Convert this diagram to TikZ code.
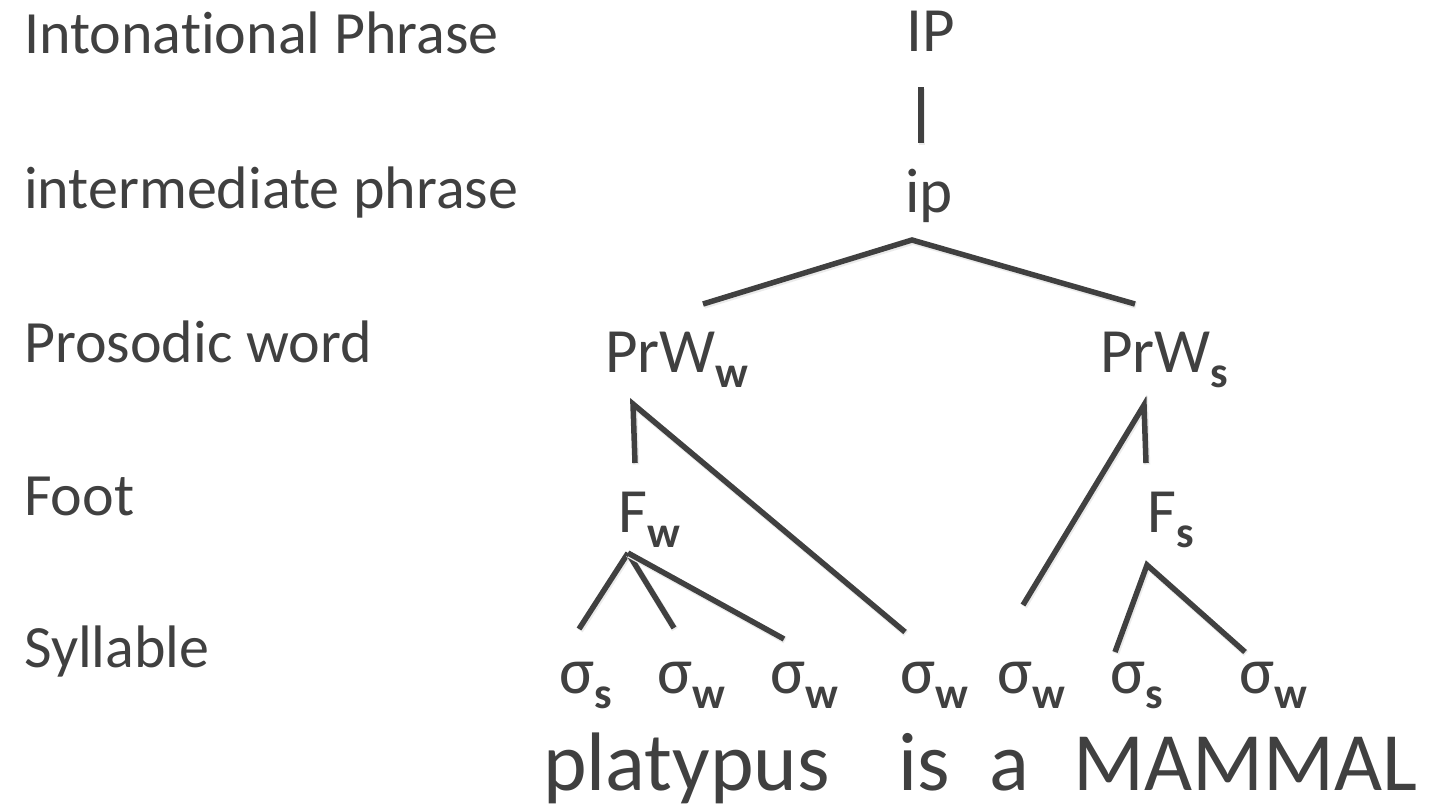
\documentclass[tikz,border=0pt]{standalone}
\usepackage{fontspec}
\setmainfont{Carlito}[Ligatures=NoCommon]
\usepackage{xcolor}
\definecolor{ink}{RGB}{64, 64, 64}
\newcommand{\lowsub}[1]{\raisebox{-15pt}{\fontsize{44}{44}\selectfont\bfseries #1}}
\tikzset{
  lvl/.style    = {anchor=base west, inner sep=0pt, text=ink, font=\fontsize{60}{66}\selectfont},
  tnode/.style  = {anchor=base west, inner sep=0pt, text=ink, font=\fontsize{63}{70}\selectfont},
  syl/.style    = {anchor=base west, inner sep=0pt, text=ink, font=\fontsize{66}{72}\selectfont},
  word/.style   = {anchor=base west, inner sep=0pt, text=ink, font=\fontsize{83}{90}\selectfont},
  branch/.style = {draw=ink, line width=5.5pt, line join=miter,
                   preaction={draw=black!8, line width=6.5pt,
                              transform canvas={shift={(1pt,-1.5pt)}}}},
}

\begin{document}
\begin{tikzpicture}[x=1pt, y=-1pt]
\useasboundingbox (0,0) rectangle (1437,808);

% ==================== levels ====================
\node[lvl] (l-ip)   at (24, 53)  {Intonational Phrase};
\node[lvl] (l-int)  at (24, 208) {intermediate phrase};
\node[lvl] (l-prw)  at (24, 362) {Prosodic word};
\node[lvl] (l-foot) at (24, 515) {Foot};
\node[lvl] (l-syl)  at (24, 667) {Syllable};

% ==================== tree ====================
\node[tnode] (IP)   at (906, 52)   {IP};
\node[tnode] (ip)   at (905, 212)  {ip};
\node[tnode] (prww) at (605, 372)  {PrW\lowsub{w}};
\node[tnode] (prws) at (1100, 372) {PrW\lowsub{s}};
\node[tnode] (fw)   at (618, 532)  {F\lowsub{w}};
\node[tnode] (fs)   at (1147, 532) {F\lowsub{s}};

% syllables
\node[syl] (s1) at (559, 693)  {σ\lowsub{s}};
\node[syl] (s2) at (657, 693)  {σ\lowsub{w}};
\node[syl] (s3) at (770, 693)  {σ\lowsub{w}};
\node[syl] (s4) at (900, 693)  {σ\lowsub{w}};
\node[syl] (s5) at (997, 693)  {σ\lowsub{w}};
\node[syl] (s6) at (1110, 693) {σ\lowsub{s}};
\node[syl] (s7) at (1239, 693) {σ\lowsub{w}};

% words
\node[word] (w-plat) at (543, 790)  {platypus};
\node[word] (w-is)   at (898, 790)  {is};
\node[word] (w-a)    at (989, 790)  {a};
\node[word] (w-mam)  at (1073, 790) {MAMMAL};

% ==================== branches ====================
\draw[branch] ([shift={(15,35)}]IP.base west) -- ([shift={(16,-69)}]ip.base west);

\draw[branch] ([shift={(98,-68)}]prww.base west) -- ([shift={(7,28)}]ip.base west)
              -- ([shift={(35,-68)}]prws.base west);

\draw[branch] ([shift={(17,-69)}]fw.base west) -- ([shift={(28,32)}]prww.base west)
              -- ([shift={(5,-61)}]s4.base west);
\draw[branch] ([shift={(26,-88)}]s5.base west) -- ([shift={(44,33)}]prws.base west)
              -- ([shift={(-1,-69)}]fs.base west);

\draw[branch] ([shift={(10,21)}]fw.base west) -- ([shift={(20,-64)}]s1.base west);
\draw[branch] ([shift={(10,21)}]fw.base west) -- ([shift={(17,-65)}]s2.base west);
\draw[branch] ([shift={(10,21)}]fw.base west) -- ([shift={(14,-54)}]s3.base west);

\draw[branch] ([shift={(5,-41)}]s6.base west) -- ([shift={(0,33)}]fs.base west)
              -- ([shift={(6,-41)}]s7.base west);

\end{tikzpicture}
\end{document}
